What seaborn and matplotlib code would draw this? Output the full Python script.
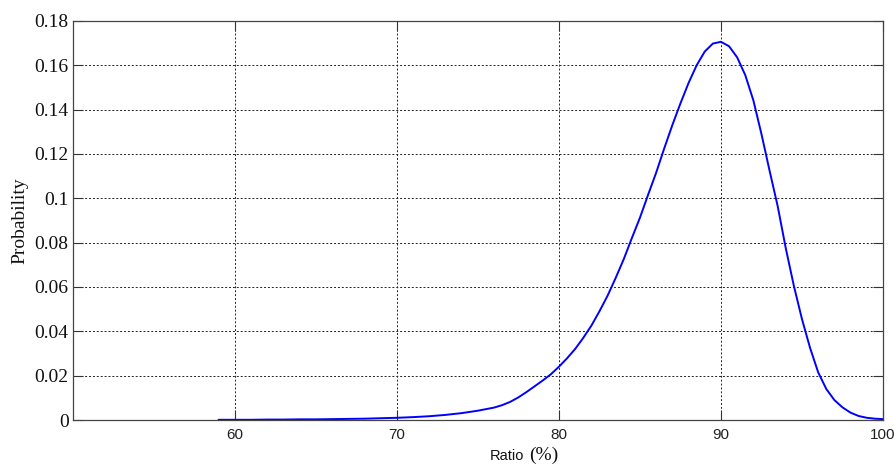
import numpy as np
import pandas as pd
import seaborn as sns
import matplotlib.pyplot as plt

# values
ratio = [59, 60, 61, 62, 63, 64, 65, 66, 67, 68, 69, 70, 71, 72, 73, 74, 75, 76,
         76.5, 77, 77.5, 78, 78.5, 79, 79.5, 80, 80.5, 81, 81.5, 82, 82.5, 83, 83.5,
         84, 84.5, 85, 85.5, 86, 86.5, 87, 87.5, 88, 88.5, 89, 89.5, 90, 90.5,
         91, 91.5, 92, 92.5, 93, 93.5, 94, 94.5, 95, 95.5, 96, 96.5, 97, 97.5,
         98, 98.5, 99, 99.5, 100]
probability = [0.0001, 0.0001, 0.0001, 0.0002, 0.0002, 0.0003, 0.0003, 0.0004,
               0.0005, 0.0006, 0.0008, 0.0010, 0.0013, 0.0017, 0.0023, 0.0031,
               0.0042, 0.0056, 0.0067, 0.0082, 0.0102, 0.0126, 0.0152, 0.0178,
               0.0206, 0.0240, 0.0278, 0.0320, 0.0370, 0.0425, 0.0490, 0.0560,
               0.0640, 0.0725, 0.0820, 0.0912, 0.1015, 0.1115, 0.1225, 0.1330,
               0.1428, 0.1520, 0.1600, 0.1662, 0.1698, 0.1706, 0.1686, 0.1636,
               0.1556, 0.1442, 0.1290, 0.1125, 0.0965, 0.0775, 0.0605, 0.0455,
               0.0325, 0.0215, 0.0140, 0.0090, 0.0057, 0.0033, 0.0018, 0.0010,
               0.0006, 0.0004]
x_ticks = [60, 70, 80, 90, 100]
y_ticks = [0, 0.02, 0.04, 0.06, 0.08, 0.1, 0.12, 0.14, 0.16, 0.18]
y_tick_labels = ['0', '0.02', '0.04', '0.06', '0.08', '0.1', '0.12', '0.14', '0.16', '0.18']

df = pd.DataFrame({'Ratio': ratio, 'Probability': probability})

sns.set_style('white')
fig = plt.figure(figsize=(8.95, 4.66), dpi=100)
ax = fig.add_axes([0.0812, 0.0987, 0.9054, 0.8563])

sns.lineplot(data=df, x='Ratio', y='Probability', color='#0000ff', linewidth=1.4, ax=ax)

ax.set_xlim(50, 100)
ax.set_ylim(0, 0.18)
ax.set_xticks(x_ticks)
ax.set_xticklabels([str(t) for t in x_ticks], family='Liberation Sans', fontsize=11, color='#222222')
ax.set_yticks(y_ticks)
ax.set_yticklabels(y_tick_labels, family='Liberation Serif', fontsize=14, color='#111111')

ax.grid(True, color='#222222', linestyle=(0, (2, 2)), linewidth=0.7)
ax.tick_params(direction='in', length=7.5, width=0.8, color='#333333',
               top=True, right=True, bottom=True, left=True)
ax.tick_params(axis='x', pad=6)
ax.tick_params(axis='y', pad=3)
for s in ax.spines.values():
    s.set_color('#444444')
    s.set_linewidth(0.9)

ax.set_xlabel('')
ax.set_ylabel('Probability', family='Liberation Serif', fontsize=14, color='#111111', labelpad=4)

# x label: "Ratio" in sans, "(%)" in serif like the original
fig.text(490 / 895, 1 - 460 / 466, 'Ratio', family='Liberation Sans', fontsize=10.5,
         color='#111111', ha='left', va='baseline')
fig.text(529 / 895, 1 - 460 / 466, '(%)', family='Liberation Serif', fontsize=14,
         color='#111111', ha='left', va='baseline')

fig.savefig('out.png', dpi=100, facecolor='white')
